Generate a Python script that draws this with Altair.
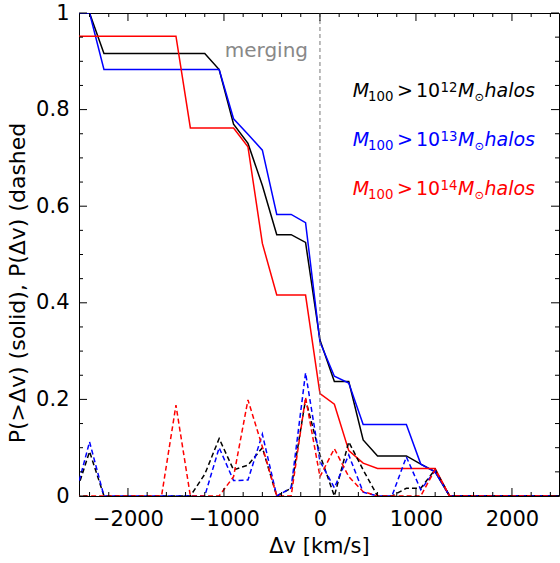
import altair as alt
import pandas as pd

# ---------------- data ----------------
dv = [-2550, -2400, -2250, -2100, -1950, -1800, -1650, -1500, -1350, -1200, -1050,
      -900, -750, -600, -450, -300, -150, 0, 150, 300, 450, 600, 750, 900, 1050,
      1200, 1350, 1500, 1650, 1800, 1950, 2100, 2250, 2400, 2550]

cum_12 = [1.0, 1.0, 0.916, 0.916, 0.916, 0.916, 0.916, 0.916, 0.916, 0.916, 0.883,
          0.770, 0.730, 0.643, 0.541, 0.541, 0.525, 0.323, 0.237, 0.237, 0.116, 0.083,
          0.083, 0.083, 0.066, 0.050, 0, 0, 0, 0, 0, 0, 0, 0, 0]
cum_13 = [1.0, 1.0, 0.883, 0.883, 0.883, 0.883, 0.883, 0.883, 0.883, 0.883, 0.883,
          0.781, 0.749, 0.716, 0.583, 0.583, 0.566, 0.319, 0.248, 0.234, 0.148, 0.148,
          0.148, 0.148, 0.066, 0.050, 0, 0, 0, 0, 0, 0, 0, 0, 0]
cum_14 = [0.952, 0.952, 0.952, 0.952, 0.952, 0.952, 0.952, 0.952, 0.762, 0.762, 0.762,
          0.762, 0.723, 0.523, 0.416, 0.416, 0.416, 0.212, 0.190, 0.094, 0.068, 0.057,
          0.057, 0.057, 0.057, 0.057, 0, 0, 0, 0, 0, 0, 0, 0, 0]

pdf_12 = [0, 0.092, 0, 0, 0, 0, 0, 0, 0, 0.045, 0.119,
          0.054, 0.064, 0.100, 0, 0.016, 0.200, 0.085, 0, 0.112, 0.054, 0,
          0, 0.016, 0.016, 0.055, 0, 0, 0, 0, 0, 0, 0, 0, 0]
pdf_13 = [0, 0.112, 0, 0, 0, 0, 0, 0, 0, 0, 0.100,
          0.032, 0.033, 0.128, 0, 0.017, 0.255, 0.072, 0.017, 0.085, 0.008, 0,
          0, 0.081, 0.013, 0.052, 0, 0, 0, 0, 0, 0, 0, 0, 0]
pdf_14 = [0, 0, 0, 0, 0, 0, 0, 0.188, 0, 0, 0,
          0.040, 0.199, 0.102, 0, 0, 0.204, 0.040, 0.098, 0.040, 0.009, 0,
          0, 0, 0, 0.055, 0, 0, 0, 0, 0, 0, 0, 0, 0]

series_keys = ["a12", "b13", "c14"]
series_colors = ["black", "blue", "red"]
exponents = ["12", "13", "14"]

x_major = [-2000, -1000, 0, 1000, 2000]
x_minor = [-2400, -2200, -1800, -1600, -1400, -1200, -800, -600, -400, -200,
           200, 400, 600, 800, 1200, 1400, 1600, 1800, 2200, 2400]
y_major = [0, 0.2, 0.4, 0.6, 0.8, 1.0]
y_minor = [0.05, 0.1, 0.15, 0.25, 0.3, 0.35, 0.45, 0.5, 0.55, 0.65, 0.7, 0.75,
           0.85, 0.9, 0.95]
merge_x = [0]

x_title = "Δv [km/s]"
y_title = "P(>Δv) (solid), P(Δv) (dashed"

# ---------------- layout ----------------
W, H = 480, 483
FONT = "DejaVu Sans"
X_DOMAIN = [-2510, 2490]

rows = []
for key, c, p in zip(series_keys, [cum_12, cum_13, cum_14], [pdf_12, pdf_13, pdf_14]):
    for x, a, b in zip(dv, c, p):
        rows.append({"dv": x, "cum": a, "pdf": b, "s": key})
df = pd.DataFrame(rows)

xs = alt.Scale(domain=X_DOMAIN, nice=False, zero=False)
ys = alt.Scale(domain=[0, 1], nice=False, zero=False)
cs = alt.Scale(domain=series_keys, range=series_colors)

AX_X = alt.Axis(values=x_major, format="d", ticks=False, domain=False,
                grid=False, labelFont=FONT, labelFontSize=21,
                labelColor="black", labelPadding=12,
                title=x_title, titleFont=FONT, titleFontSize=21,
                titleFontWeight="normal", titleColor="black",
                titlePadding=6)
AX_Y = alt.Axis(values=y_major, format="~g", ticks=False, domain=False,
                grid=False, labelFont=FONT, labelFontSize=21,
                labelColor="black", labelPadding=10, title=None)


def X(field):
    return alt.X(field, scale=xs, axis=AX_X)


def Y(field):
    return alt.Y(field, scale=ys, axis=AX_Y)


base = alt.Chart(df)

solid = base.mark_line(strokeWidth=1.5, clip=True).encode(
    x=X("dv:Q"), y=Y("cum:Q"),
    color=alt.Color("s:N", scale=cs, legend=None),
)

dashed = base.mark_line(strokeWidth=1.5, strokeDash=[5, 3], clip=True).encode(
    x=X("dv:Q"), y=Y("pdf:Q"),
    color=alt.Color("s:N", scale=cs, legend=None),
)

merge_rule = alt.Chart(pd.DataFrame({"dv": merge_x})).mark_rule(
    color="#777777", strokeWidth=1, strokeDash=[4, 3]
).encode(x=X("dv:Q"), y=alt.value(0), y2=alt.value(H))


def xticks(vals, length):
    d = pd.DataFrame({"dv": vals})
    bot = alt.Chart(d).mark_rule(color="black", strokeWidth=1).encode(
        x=X("dv:Q"), y=alt.value(H), y2=alt.value(H - length))
    top = alt.Chart(d).mark_rule(color="black", strokeWidth=1).encode(
        x=X("dv:Q"), y=alt.value(0), y2=alt.value(length))
    return [bot, top]


def yticks(vals, length):
    d = pd.DataFrame({"cum": vals})
    left = alt.Chart(d).mark_rule(color="black", strokeWidth=1).encode(
        y=Y("cum:Q"), x=alt.value(0), x2=alt.value(length))
    right = alt.Chart(d).mark_rule(color="black", strokeWidth=1).encode(
        y=Y("cum:Q"), x=alt.value(W), x2=alt.value(W - length))
    return [left, right]


ticks = xticks(x_major, 8) + xticks(x_minor, 4) + yticks(y_major, 8) + yticks(y_minor, 4)

merging = alt.Chart(pd.DataFrame({"t": ["merging"]})).mark_text(
    font=FONT, fontSize=20, color="#888888", align="right", baseline="alphabetic"
).encode(text="t:N", x=alt.value(229), y=alt.value(44))

ytitle = alt.Chart(pd.DataFrame({"t": [y_title]})).mark_text(
    font=FONT, fontSize=22, color="black", align="center", baseline="middle", angle=270
).encode(text="t:N", x=alt.value(-61), y=alt.value(270))

# legend-like annotation: M_100 > 10^N M_sun halos
legend_layers = []
row_base = [84, 133, 182]  # baselines inside plot (px from top)
for col, expo, yb in zip(series_colors, exponents, row_base):
    pieces = [
        ("M", 273.7, 0, 19, "italic"),
        ("100", 289, 4, 13.3, "normal"),
        (">", 318, 0, 19, "normal"),
        ("10", 337, 0, 19, "normal"),
        (expo, 361.5, -5.5, 13.3, "normal"),
        ("M", 379, 0, 19, "italic"),
        ("⊙", 395.5, 3.5, 11.5, "normal"),
        ("halos", 405.5, 0, 19, "italic"),
    ]
    for txt, px, dy, fs, style in pieces:
        legend_layers.append(
            alt.Chart(pd.DataFrame({"t": [txt]})).mark_text(
                font=FONT, fontSize=fs, fontStyle=style, color=col,
                align="left", baseline="alphabetic"
            ).encode(text="t:N", x=alt.value(px), y=alt.value(yb + dy))
        )

chart = alt.layer(
    solid, dashed, merge_rule, *ticks, merging, ytitle, *legend_layers
).properties(
    width=W, height=H,
    padding={"left": 79, "top": 13, "right": 1, "bottom": 67},
    autosize=alt.AutoSizeParams(type="none"),
    background="white",
).configure_view(stroke="black", strokeWidth=1)

chart.save("out.html", embed_options={"renderer": "svg", "actions": False})
